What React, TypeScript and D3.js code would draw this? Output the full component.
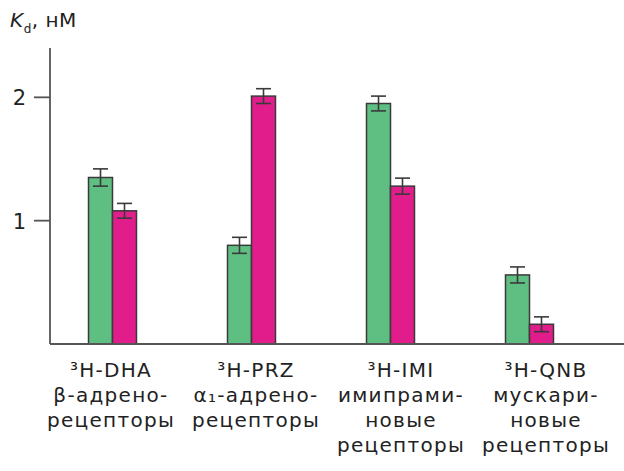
import React from 'react';
import * as d3 from 'd3';

// radioligands and receptor types
const ligands = ['³H-DHA', '³H-PRZ', '³H-IMI', '³H-QNB'];
const receptorLines = [
  ['β-адрено-', 'рецепторы'],
  ['α₁-адрено-', 'рецепторы'],
  ['имипрами-', 'новые', 'рецепторы'],
  ['мускари-', 'новые', 'рецепторы'],
];

// Kd values, nM
const greenValues = [1.35, 0.8, 1.95, 0.56];
const greenErrors = [0.07, 0.065, 0.06, 0.065];
const pinkValues = [1.08, 2.01, 1.28, 0.16];
const pinkErrors = [0.06, 0.06, 0.065, 0.06];

const yTicks = [1, 2];

const W = 624;
const H = 471;
const FONT = '"DejaVu Sans", sans-serif';

const App = () => {
  const x = d3.scaleBand().domain(ligands).range([43, 599]);
  const sub = d3.scaleBand().domain(['green', 'pink']).range([-24, 24]);
  const labelX = d3.scalePoint().domain(ligands).range([111, 546]);
  const y = d3.scaleLinear().domain([0, 2.4]).range([344, 48]);

  const series = [
    { key: 'green', values: greenValues, errors: greenErrors, color: '#5fbf83' },
    { key: 'pink', values: pinkValues, errors: pinkErrors, color: '#e01d8b' },
  ];

  const stroke = '#3a3a3a';

  return (
    <svg width={W} height={H} style={{ position: 'absolute', left: 0, top: 0, background: '#fff' }}>
      {/* title */}
      <text x={10} y={27} fontFamily={FONT} fontSize={20} fill="#222" letterSpacing={0.5}>
        <tspan fontStyle="italic">K</tspan>
        <tspan fontSize={12} dy={6}>d</tspan>
        <tspan dy={-6}>, нМ</tspan>
      </text>

      {/* bars */}
      {series.map((s) =>
        ligands.map((l, i) => {
          const cx = x(l)! + x.bandwidth() / 2;
          const bx = cx + sub(s.key)!;
          return (
            <rect
              key={s.key + l}
              x={bx}
              y={y(s.values[i])}
              width={sub.bandwidth()}
              height={y(0) - y(s.values[i])}
              fill={s.color}
              stroke={stroke}
              strokeWidth={1.5}
            />
          );
        })
      )}

      {/* error bars */}
      {series.map((s) =>
        ligands.map((l, i) => {
          const cx = x(l)! + x.bandwidth() / 2 + sub(s.key)! + sub.bandwidth() / 2;
          const top = y(s.values[i] + s.errors[i]);
          const bot = y(s.values[i] - s.errors[i]);
          return (
            <g key={'e' + s.key + l} stroke={stroke} strokeWidth={1.6}>
              <line x1={cx} x2={cx} y1={top} y2={bot} />
              <line x1={cx - 7.5} x2={cx + 7.5} y1={top} y2={top} />
              <line x1={cx - 7.5} x2={cx + 7.5} y1={bot} y2={bot} />
            </g>
          );
        })
      )}

      {/* axes */}
      <line x1={50} x2={50} y1={y.range()[1]} y2={y(0)} stroke="#555" strokeWidth={1.8} />
      <line x1={50} x2={W} y1={y(0)} y2={y(0)} stroke="#555" strokeWidth={1.8} />
      {yTicks.map((t) => (
        <g key={t}>
          <line x1={34} x2={50} y1={y(t)} y2={y(t)} stroke="#555" strokeWidth={1.8} />
          <text x={26} y={y(t) + 8} textAnchor="end" fontFamily={FONT} fontSize={21} fill="#222">
            {t}
          </text>
        </g>
      ))}

      {/* category labels */}
      {ligands.map((l, i) => {
        const cx = labelX(l)!;
        return (
          <g key={'lab' + l} fontFamily={FONT} fontSize={20} fill="#222" textAnchor="middle" letterSpacing={1.3}>
            <text x={cx} y={377}>{l}</text>
            {receptorLines[i].map((line, j) => (
              <text key={j} x={cx} y={402 + j * 25}>
                {line}
              </text>
            ))}
          </g>
        );
      })}
    </svg>
  );
};

export default App;
